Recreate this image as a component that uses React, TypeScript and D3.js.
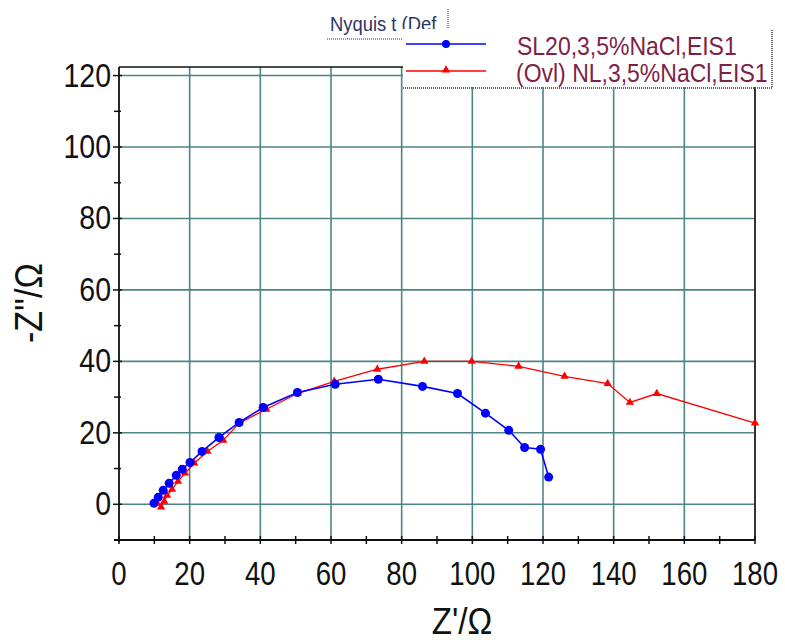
import React from "react";
import * as d3 from "d3";

const blueZre = [9.9, 11.1, 12.5, 14.2, 16.2, 17.9, 20.1, 23.5, 28.3, 34.0, 40.8, 50.5, 61.2, 73.4, 85.9, 95.8, 103.7, 110.3, 114.8, 119.3, 121.6];
const blueZim = [0.3, 2.0, 3.9, 5.9, 8.1, 9.8, 11.7, 14.8, 18.7, 22.9, 27.1, 31.3, 33.6, 35.0, 33.0, 31.0, 25.5, 20.7, 15.9, 15.4, 7.6];

const redZre = [10.8, 11.9, 12.8, 13.6, 15.0, 16.7, 18.7, 21.3, 25.0, 29.5, 34.0, 41.7, 50.5, 60.9, 73.1, 86.4, 99.8, 113.1, 126.1, 138.3, 144.6, 152.2, 180.0];
const redZim = [0.3, -0.8, 0.8, 2.5, 4.2, 6.4, 8.7, 11.5, 14.8, 17.9, 22.7, 26.6, 31.0, 34.4, 37.8, 40.0, 40.0, 38.6, 35.8, 33.8, 28.5, 31.0, 22.7];

const xTicks = [0, 20, 40, 60, 80, 100, 120, 140, 160, 180];
const yTicks = [0, 20, 40, 60, 80, 100, 120];
const xMinor = [10, 30, 50, 70, 90, 110, 130, 150, 170];
const yMinor = [-10, 10, 30, 50, 70, 90, 110];

const seriesNames = ["SL20,3,5%NaCl,EIS1", "(Ovl) NL,3,5%NaCl,EIS1"];
const chartTitle = "Nyquis t (Def";
const xTitle = "Z'/Ω";
const yTitle = "-Z''/Ω";

const FONT = "'Liberation Sans', Arial, sans-serif";

export default function App() {
  const W = 785, H = 640;
  const left = 119, right = 755, top = 67, bottom = 540;
  const x = d3.scaleLinear().domain([0, 180]).range([left, right]);
  const y = d3.scaleLinear().domain([-10, 122.4]).range([bottom, top]);

  const blue = blueZre.map((v, i) => [v, blueZim[i]] as [number, number]);
  const red = redZre.map((v, i) => [v, redZim[i]] as [number, number]);
  const line = d3.line<[number, number]>().x(d => x(d[0])).y(d => y(d[1]));
  const tri = d3.symbol().type(d3.symbolTriangle).size(30)();

  const grid = "#4d8585";
  const sx = 0.92;

  return (
    <svg width={W} height={H} style={{ position: "absolute", left: 0, top: 0, background: "#fff" }}>
      <rect width={W} height={H} fill="#fff" />
      {/* grid */}
      {xTicks.filter(t => t > 0 && t < 180).map(t => (
        <line key={"gx" + t} x1={x(t)} x2={x(t)} y1={top} y2={bottom} stroke={grid} strokeWidth={1.6} />
      ))}
      {yTicks.map(t => (
        <line key={"gy" + t} x1={left} x2={right} y1={y(t)} y2={y(t)} stroke={grid} strokeWidth={1.6} />
      ))}
      {/* frame */}
      <line x1={left} x2={right} y1={top} y2={top} stroke="#111" strokeWidth={1.5} />
      <line x1={right} x2={right} y1={top} y2={bottom} stroke="#333" strokeWidth={2} />
      <line x1={left} x2={left} y1={top} y2={bottom + 2} stroke="#111" strokeWidth={1.8} />
      <line x1={left - 5} x2={right} y1={bottom} y2={bottom} stroke="#111" strokeWidth={1.8} />
      {/* y ticks */}
      {yTicks.map(t => (
        <g key={"yt" + t}>
          <line x1={left - 6} x2={left + 3} y1={y(t)} y2={y(t)} stroke="#111" strokeWidth={1.5} />
          <text transform={`translate(${left - 8},${y(t) + 11}) scale(${sx},1.08)`} textAnchor="end" fontFamily={FONT} fontSize={31} fill="#111">{t}</text>
        </g>
      ))}
      {yMinor.map(t => (
        <line key={"ym" + t} x1={left - 5} x2={left + 2} y1={y(t)} y2={y(t)} stroke="#111" strokeWidth={1.5} />
      ))}
      {/* x ticks */}
      {xTicks.map(t => (
        <g key={"xt" + t}>
          <line x1={x(t)} x2={x(t)} y1={bottom - 4} y2={bottom + 4} stroke="#111" strokeWidth={1.5} />
          <text transform={`translate(${x(t)},${585}) scale(${sx},1.08)`} textAnchor="middle" fontFamily={FONT} fontSize={30} fill="#111">{t}</text>
        </g>
      ))}
      {xMinor.map(t => (
        <line key={"xm" + t} x1={x(t)} x2={x(t)} y1={bottom - 4} y2={bottom + 4} stroke="#111" strokeWidth={1.5} />
      ))}
      {/* axis titles */}
      <text transform={`translate(462,634) scale(${sx},1.04)`} textAnchor="middle" fontFamily={FONT} fontSize={36} fill="#111">{xTitle}</text>
      <text transform={`translate(42,303) rotate(-90) scale(${sx},1.05)`} textAnchor="middle" fontFamily={FONT} fontSize={37} fill="#111">{yTitle}</text>

      {/* series */}
      <g>
        <path d={line(red) || ""} fill="none" stroke="#ff0000" strokeWidth={1.3} />
        {red.map((d, i) => (
          <path key={"r" + i} d={tri} transform={`translate(${x(d[0])},${y(d[1])})`} fill="#ff0000" />
        ))}
        <path d={line(blue) || ""} fill="none" stroke="#0000ff" strokeWidth={1.6} />
        {blue.map((d, i) => (
          <circle key={"b" + i} cx={x(d[0])} cy={y(d[1])} r={4.5} fill="#0000ff" />
        ))}
      </g>

      {/* title box */}
      <rect x={326} y={6} width={124} height={33} fill="#fff" />
      <line x1={327} x2={403} y1={39} y2={39} stroke="#777" strokeWidth={1.5} strokeDasharray="1,1" />
      <line x1={448} x2={448} y1={9} y2={29} stroke="#777" strokeWidth={1.5} strokeDasharray="1,1" />
      <text transform={`translate(330,31) scale(${sx},1.05)`} fontFamily={FONT} fontSize={20} fill="#2b3566">{chartTitle}</text>

      {/* legend */}
      <rect x={403} y={29} width={369} height={58} fill="#fff" />
      <line x1={772} x2={772} y1={30} y2={88} stroke="#666" strokeWidth={2} strokeDasharray="1,1" />
      <line x1={403} x2={772} y1={88} y2={88} stroke="#666" strokeWidth={2} strokeDasharray="1,1" />
      <line x1={406} x2={486} y1={44} y2={44} stroke="#0000ff" strokeWidth={1.6} />
      <circle cx={446} cy={44} r={4} fill="#0000ff" />
      <text transform={`translate(517,55) scale(${sx},1.05)`} fontFamily={FONT} fontSize={25} fill="#7d2246">{seriesNames[0]}</text>
      <line x1={406} x2={486} y1={71} y2={71} stroke="#ff0000" strokeWidth={1.3} />
      <path d={tri} transform="translate(446,70)" fill="#ff0000" />
      <text transform={`translate(516,82) scale(${sx},1.05)`} fontFamily={FONT} fontSize={25} fill="#7d2246">{seriesNames[1]}</text>
    </svg>
  );
}
